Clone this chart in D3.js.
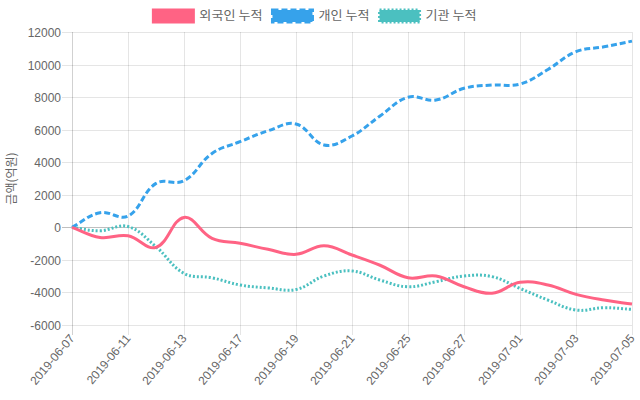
<!DOCTYPE html>
<html>
<head>
<meta charset="utf-8">
<script src="https://cdn.jsdelivr.net/npm/d3@7"></script>
<style>
  html, body { margin: 0; padding: 0; background: #fff; }
  svg { display: block; }
  text { font-family: "Liberation Sans", Arial, "Noto Sans CJK KR", sans-serif; font-size: 12px; fill: #666; }
  text.kr { font-family: "Noto Sans CJK KR", sans-serif; }
</style>
</head>
<body>
<svg id="chart" width="640" height="400"></svg>
<script>
const dates = ["2019-06-07","2019-06-10","2019-06-11","2019-06-12","2019-06-13","2019-06-14","2019-06-17","2019-06-18","2019-06-19","2019-06-20","2019-06-21","2019-06-24","2019-06-25","2019-06-26","2019-06-27","2019-06-28","2019-07-01","2019-07-02","2019-07-03","2019-07-04","2019-07-05"];
const foreignCum = [0, -620, -520, -1230, 610, -680, -980, -1350, -1660, -1130, -1700, -2330, -3100, -2990, -3650, -4050, -3380, -3540, -4120, -4470, -4710];
const individualCum = [0, 900, 690, 2700, 2860, 4540, 5260, 5930, 6350, 5060, 5610, 6840, 7990, 7820, 8540, 8740, 8800, 9700, 10790, 11090, 11440];
const institutionCum = [0, -210, 50, -1190, -2830, -3100, -3540, -3720, -3820, -2990, -2680, -3240, -3650, -3340, -2990, -3030, -3750, -4470, -5080, -4940, -5040];
const seriesNames = ["외국인 누적", "개인 누적", "기관 누적"];
const yTicks = [-6000, -4000, -2000, 0, 2000, 4000, 6000, 8000, 10000, 12000];
const yTitle = "금액(억원)";

const series = [
  { name: seriesNames[0], values: foreignCum, color: "rgb(255,99,132)", dash: null },
  { name: seriesNames[1], values: individualCum, color: "rgb(54,162,235)", dash: "6,3" },
  { name: seriesNames[2], values: institutionCum, color: "rgb(75,192,192)", dash: "2,2" }
];

const svg = d3.select("#chart");
const pL = 72, pR = 632, pT = 32, pB = 325;

const x = d3.scalePoint().domain(dates).range([pL, pR]);
const y = d3.scaleLinear().domain([-6000, 12000]).range([pB, pT]);

// Chart.js-like spline curve (tension 0.4)
function chartjsCurve(context) {
  let pts = [];
  return {
    areaStart() {}, areaEnd() {},
    lineStart() { pts = []; },
    point(px, py) { pts.push([+px, +py]); },
    lineEnd() {
      const t = 0.4, n = pts.length;
      if (!n) return;
      const cps = pts.map((p, i) => {
        const prev = pts[Math.max(0, i - 1)], next = pts[Math.min(n - 1, i + 1)];
        const d01 = Math.hypot(p[0] - prev[0], p[1] - prev[1]);
        const d12 = Math.hypot(next[0] - p[0], next[1] - p[1]);
        let s01 = d01 / (d01 + d12), s12 = d12 / (d01 + d12);
        if (isNaN(s01)) s01 = 0; if (isNaN(s12)) s12 = 0;
        const fa = t * s01, fb = t * s12;
        const pc = [p[0] - fa * (next[0] - prev[0]), p[1] - fa * (next[1] - prev[1])];
        const nc = [p[0] + fb * (next[0] - prev[0]), p[1] + fb * (next[1] - prev[1])];
        const cap = c => [Math.max(pL, Math.min(pR, c[0])), Math.max(pT, Math.min(pB, c[1]))];
        return { pc: cap(pc), nc: cap(nc) };
      });
      context.moveTo(pts[0][0], pts[0][1]);
      for (let i = 1; i < n; i++) {
        context.bezierCurveTo(cps[i - 1].nc[0], cps[i - 1].nc[1], cps[i].pc[0], cps[i].pc[1], pts[i][0], pts[i][1]);
      }
    }
  };
}

// horizontal grid lines + tick marks
const gGrid = svg.append("g");
yTicks.forEach(v => {
  const yy = Math.round(y(v)) + 0.5;
  gGrid.append("line")
    .attr("x1", pL - 10).attr("x2", pR).attr("y1", yy).attr("y2", yy)
    .attr("stroke", v === 0 ? "rgba(0,0,0,0.25)" : "rgba(0,0,0,0.1)").attr("stroke-width", 1);
  svg.append("text").attr("x", pL - 11).attr("y", yy).attr("dy", "0.35em")
    .attr("text-anchor", "end").text(v);
});

// vertical grid lines at displayed labels (every other)
const shown = dates.filter((d, i) => i % 2 === 0);
shown.forEach((d, k) => {
  const xx = Math.round(x(d)) + 0.5;
  gGrid.append("line")
    .attr("x1", xx).attr("x2", xx).attr("y1", pT).attr("y2", pB + 10)
    .attr("stroke", k === 0 ? "rgba(0,0,0,0.18)" : "rgba(0,0,0,0.1)").attr("stroke-width", 1);
  svg.append("text")
    .attr("transform", `translate(${x(d)},${pB + 11}) rotate(-50)`)
    .attr("dy", "0.35em").attr("text-anchor", "end").text(d);
});

// y axis title
svg.append("text").attr("class", "kr")
  .attr("transform", `translate(12,${(pT + pB) / 2}) rotate(-90)`)
  .attr("text-anchor", "middle").attr("dy", "0.35em").text(yTitle);

// lines (first dataset on top)
const line = d3.line().x((d, i) => x(dates[i])).y(d => y(d)).curve(chartjsCurve);
series.slice().reverse().forEach(s => {
  svg.append("path").attr("d", line(s.values))
    .attr("fill", "none").attr("stroke", s.color).attr("stroke-width", 3)
    .attr("stroke-dasharray", s.dash).attr("stroke-linejoin", "round");
});

// legend (hangul in the reference renders slightly wider)
const widen = 1.09;
const gLeg = svg.append("g");
const items = series.map(s => {
  const g = gLeg.append("g");
  g.append("rect").attr("x", 0).attr("y", 10).attr("width", 40).attr("height", 12)
    .attr("fill", s.color).attr("stroke", s.color).attr("stroke-width", 3)
    .attr("stroke-dasharray", s.dash);
  const t = g.append("text").attr("class", "kr").attr("x", 46).attr("y", 16).attr("dy", "0.35em").text(s.name);
  const w = t.node().getComputedTextLength() * widen;
  t.attr("textLength", w).attr("lengthAdjust", "spacingAndGlyphs");
  return { g, w: 40 + 6 + w + 10 };
});
const total = d3.sum(items, d => d.w);
let cx = (640 - total) / 2;
items.forEach(it => { it.g.attr("transform", `translate(${cx},0)`); cx += it.w; });
</script>
</body>
</html>
